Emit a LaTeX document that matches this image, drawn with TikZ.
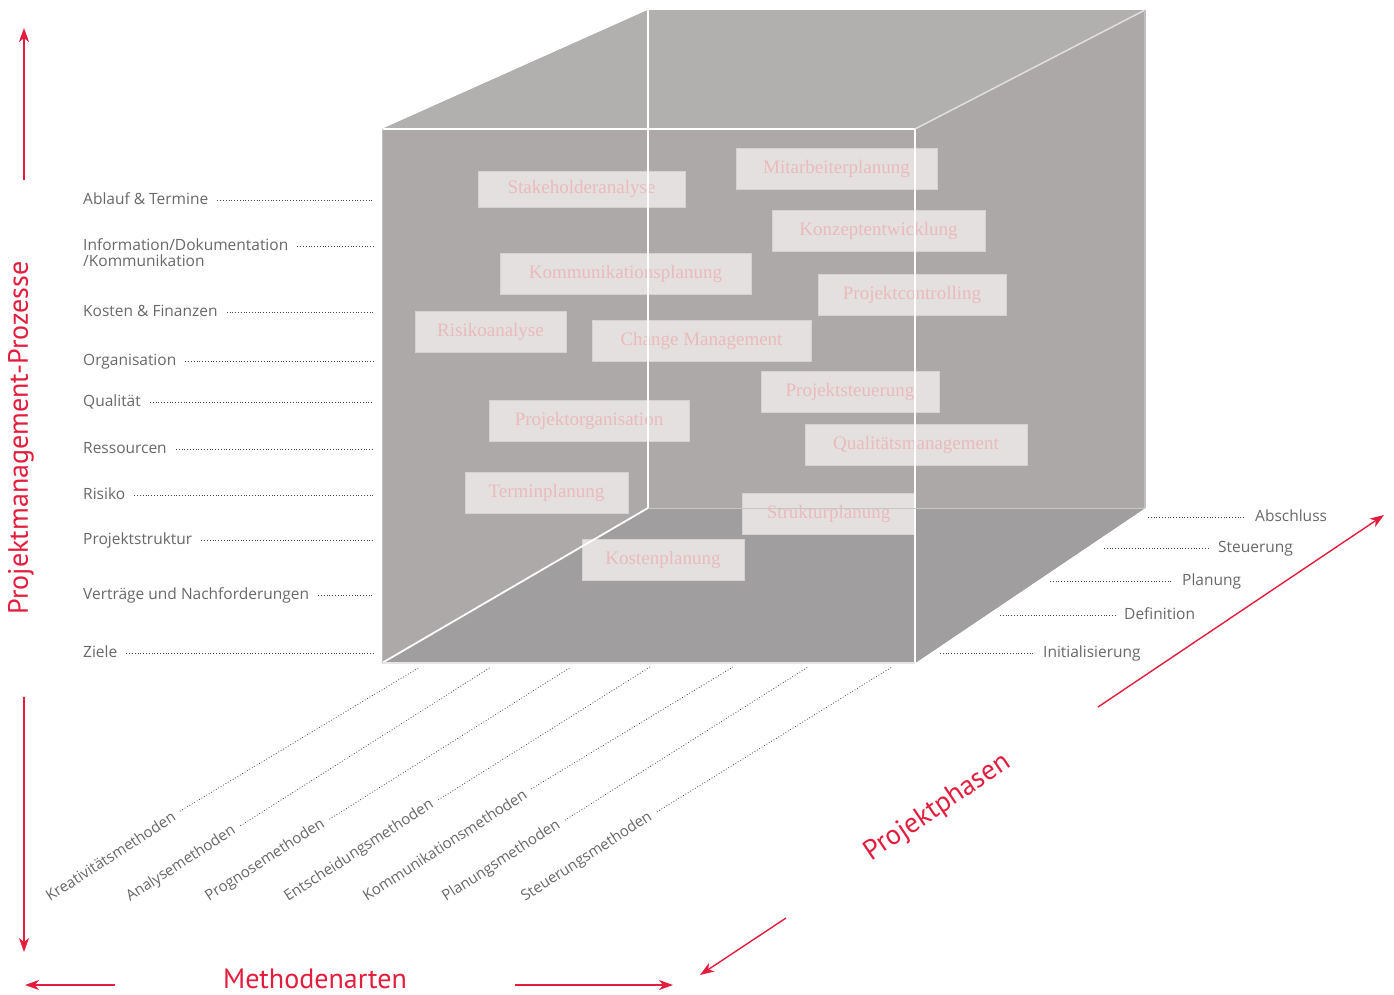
\documentclass[tikz,border=0pt]{standalone}
\usepackage{fontspec}
\setmainfont{Liberation Serif}
\newfontfamily\labelfont{Open Sans}
\newfontfamily\titelfont{PT Sans}
\usetikzlibrary{positioning,arrows.meta}

\definecolor{achsrot}{RGB}{226,29,61}
\definecolor{labelgrau}{RGB}{104,104,104}
\definecolor{leitgrau}{RGB}{70,70,70}
\definecolor{deckel}{RGB}{178,175,175}
\definecolor{vorne}{RGB}{173,169,168}
\definecolor{boden}{RGB}{160,158,159}
\definecolor{seite}{RGB}{172,168,167}
\definecolor{bausteinfill}{RGB}{228,224,224}
\definecolor{bausteinrand}{RGB}{214,210,210}
\definecolor{bausteintext}{RGB}{234,186,188}

\begin{document}
\begin{tikzpicture}[x=1pt, y=-1pt,
	baustein/.style={rectangle, fill=bausteinfill, draw=bausteinrand, line width=0.8pt, text=bausteintext, font=\fontsize{19}{19}\selectfont, inner xsep=8pt, minimum height=41pt},
	prozess/.style={anchor=base west, inner sep=0pt, text=labelgrau, font=\labelfont\fontsize{15.5}{16}\selectfont, align=left},
	phase/.style={anchor=base west, inner sep=0pt, text=labelgrau, font=\labelfont\fontsize{15.5}{16}\selectfont},
	methode/.style={anchor=base west, inner sep=0pt, rotate=33, text=labelgrau, font=\labelfont\fontsize{15}{15}\selectfont},
	leitlinie/.style={leitgrau, line width=0.8pt, dash pattern=on 0.8pt off 2pt},
	kante/.style={white, line width=1.8pt},
	achse/.style={achsrot, line width=1.4pt, -{Stealth[length=14pt, width=10pt, inset=4pt]}},
	achsentitel/.style={text=achsrot, inner sep=1pt, font=\titelfont\fontsize{28}{28}\selectfont}]

	\useasboundingbox (0,0) rectangle (1394,994);

	\coordinate (ftl) at (382,129);
	\coordinate (ftr) at (915,129);
	\coordinate (fbr) at (915,663);
	\coordinate (fbl) at (382,663);
	\coordinate (btl) at (648,10);
	\coordinate (btr) at (1145,10);
	\coordinate (bbr) at (1145,508);
	\coordinate (bbl) at (648,508);

	\fill[vorne] (fbl) -- (ftl) -- (btl) -- (btr) -- (bbr) -- (fbr) -- cycle;
	\fill[deckel] (ftl) -- (btl) -- (btr) -- (ftr) -- cycle;
	\fill[seite] (ftr) -- (btr) -- (bbr) -- (fbr) -- cycle;
	\fill[boden] (fbl) -- (bbl) -- (bbr) -- (fbr) -- cycle;

	\node (stakeholder) [baustein, minimum width=207pt, minimum height=36pt] at (581.5,189) {Stakeholderanalyse};
	\node (mitarbeiter) [baustein, minimum width=201pt] at (836.5,168.5) {Mitarbeiterplanung};
	\node (konzept) [baustein, minimum width=213pt] at (878.5,230.5) {Konzeptentwicklung};
	\node (kommplan) [baustein, minimum width=251pt] at (625.5,273.5) {Kommunikationsplanung};
	\node (controlling) [baustein, minimum width=188pt] at (912,294.5) {Projektcontrolling};
	\node (risiko) [baustein, minimum width=151pt] at (490.5,331.5) {Risikoanalyse};
	\node (change) [baustein, minimum width=219pt] at (701.5,340.5) {Change Management};
	\node (steuerung) [baustein, minimum width=178pt] at (850,391.5) {Projektsteuerung};
	\node (projorg) [baustein, minimum width=200pt] at (589,420.5) {Projektorganisation};
	\node (qualitaet) [baustein, minimum width=222pt] at (916,444.5) {Qualitätsmanagement};
	\node (termin) [baustein, minimum width=163pt] at (546.5,492.5) {Terminplanung};
	\node (struktur) [baustein, minimum width=173pt] at (828.5,513.5) {Strukturplanung};
	\node (kosten) [baustein, minimum width=162pt] at (663,559.5) {Kostenplanung};

	\draw[kante] (ftl) -- (ftr) -- (fbr);
	\draw[kante] (btl) -- (bbl) -- (fbl);
	\draw[white!80!gray, line width=1.5pt] (fbl) -- (fbr);
	\draw[white!75!gray, line width=1.5pt] (ftr) -- (btr);
	\draw[white!55!gray, line width=1pt] (bbl) -- (bbr);
	\draw[white!50!gray, line width=1pt] (fbl) -- (ftl);
	\draw[white!50!gray, line width=1.5pt] (btr) -- (bbr);

	\coordinate (leitende) at (374,0);
	\node (ablauf) [prozess] at (83,204) {Ablauf \& Termine};
	\node (info) [prozess] at (83,266) {Information/Dokumentation\\/Kommunikation};
	\node (kostenfin) [prozess] at (83,316) {Kosten \& Finanzen};
	\node (organisation) [prozess] at (83,365) {Organisation};
	\node (qual) [prozess] at (83,406) {Qualität};
	\node (ressourcen) [prozess] at (83,453) {Ressourcen};
	\node (risk) [prozess] at (83,499) {Risiko};
	\node (projstruktur) [prozess] at (83,544) {Projektstruktur};
	\node (vertraege) [prozess] at (83,599) {Verträge und Nachforderungen};
	\node (ziele) [prozess] at (83,657) {Ziele};

	\draw[leitlinie] ([xshift=9pt, yshift=4pt]ablauf.base east) -- ([yshift=4pt]ablauf.base east -| leitende);
	\draw[leitlinie] ([xshift=9pt, yshift=20pt]info.base east) -- ([yshift=20pt]info.base east -| leitende);
	\draw[leitlinie] ([xshift=9pt, yshift=4pt]kostenfin.base east) -- ([yshift=4pt]kostenfin.base east -| leitende);
	\draw[leitlinie] ([xshift=9pt, yshift=4pt]organisation.base east) -- ([yshift=4pt]organisation.base east -| leitende);
	\draw[leitlinie] ([xshift=9pt, yshift=4pt]qual.base east) -- ([yshift=4pt]qual.base east -| leitende);
	\draw[leitlinie] ([xshift=9pt, yshift=4pt]ressourcen.base east) -- ([yshift=4pt]ressourcen.base east -| leitende);
	\draw[leitlinie] ([xshift=9pt, yshift=4pt]risk.base east) -- ([yshift=4pt]risk.base east -| leitende);
	\draw[leitlinie] ([xshift=9pt, yshift=4pt]projstruktur.base east) -- ([yshift=4pt]projstruktur.base east -| leitende);
	\draw[leitlinie] ([xshift=9pt, yshift=4pt]vertraege.base east) -- ([yshift=4pt]vertraege.base east -| leitende);
	\draw[leitlinie] ([xshift=9pt, yshift=4pt]ziele.base east) -- ([yshift=4pt]ziele.base east -| leitende);

	\node (abschluss) [phase] at (1255,521) {Abschluss};
	\node (steuer) [phase] at (1218,552) {Steuerung};
	\node (planung) [phase] at (1182,585) {Planung};
	\node (definition) [phase] at (1124,619) {Definition};
	\node (init) [phase] at (1043,657) {Initialisierung};

	\coordinate (ph5) at (1148,0);
	\coordinate (ph4) at (1104,0);
	\coordinate (ph3) at (1050,0);
	\coordinate (ph2) at (1000,0);
	\coordinate (ph1) at (940,0);
	\draw[leitlinie] ([yshift=4pt]abschluss.base west -| ph5) -- ([xshift=-9pt, yshift=4pt]abschluss.base west);
	\draw[leitlinie] ([yshift=4pt]steuer.base west -| ph4) -- ([xshift=-9pt, yshift=4pt]steuer.base west);
	\draw[leitlinie] ([yshift=4pt]planung.base west -| ph3) -- ([xshift=-9pt, yshift=4pt]planung.base west);
	\draw[leitlinie] ([yshift=4pt]definition.base west -| ph2) -- ([xshift=-9pt, yshift=4pt]definition.base west);
	\draw[leitlinie] ([yshift=4pt]init.base west -| ph1) -- ([xshift=-9pt, yshift=4pt]init.base west);

	\node (kreativ) [methode] at (50,902) {Kreativitätsmethoden};
	\node (analyse) [methode] at (130,902) {Analysemethoden};
	\node (prognose) [methode] at (209,902) {Prognosemethoden};
	\node (entscheidung) [methode] at (288,902) {Entscheidungsmethoden};
	\node (kommunikation) [methode] at (367,902) {Kommunikationsmethoden};
	\node (planungsm) [methode] at (446,902) {Planungsmethoden};
	\node (steuerungsm) [methode] at (525,902) {Steuerungsmethoden};

	\coordinate (m1) at (420,667);
	\coordinate (m2) at (491,667);
	\coordinate (m3) at (571,667);
	\coordinate (m4) at (650,667);
	\coordinate (m5) at (733,667);
	\coordinate (m6) at (808,667);
	\coordinate (m7) at (892,667);
	\draw[leitlinie, shorten <=7pt] (kreativ.east) -- (m1);
	\draw[leitlinie, shorten <=7pt] (analyse.east) -- (m2);
	\draw[leitlinie, shorten <=7pt] (prognose.east) -- (m3);
	\draw[leitlinie, shorten <=7pt] (entscheidung.east) -- (m4);
	\draw[leitlinie, shorten <=7pt] (kommunikation.east) -- (m5);
	\draw[leitlinie, shorten <=7pt] (planungsm.east) -- (m6);
	\draw[leitlinie, shorten <=7pt] (steuerungsm.east) -- (m7);

	\node (prozesse) [achsentitel, rotate=90] at (21,438) {Projektmanagement-Prozesse};
	\node (methodenarten) [achsentitel] at (315,979) {Methodenarten};
	\node (projektphasen) [achsentitel, rotate=34] at (938,808) {Projektphasen};

	\coordinate (p1a) at (24,180);
	\coordinate (p1b) at (24,28);
	\coordinate (p2a) at (24,697);
	\coordinate (p2b) at (24,952);
	\coordinate (m1a) at (115,985);
	\coordinate (m1b) at (25,985);
	\coordinate (m2a) at (515,985);
	\coordinate (m2b) at (673,985);
	\coordinate (ph1a) at (1098,707);
	\coordinate (ph1b) at (1384,515);
	\coordinate (ph2a) at (786,918);
	\coordinate (ph2b) at (700,975);
	\draw[achse] (p1a) -- (p1b);
	\draw[achse] (p2a) -- (p2b);
	\draw[achse] (m1a) -- (m1b);
	\draw[achse] (m2a) -- (m2b);
	\draw[achse] (ph1a) -- (ph1b);
	\draw[achse] (ph2a) -- (ph2b);
\end{tikzpicture}
\end{document}
